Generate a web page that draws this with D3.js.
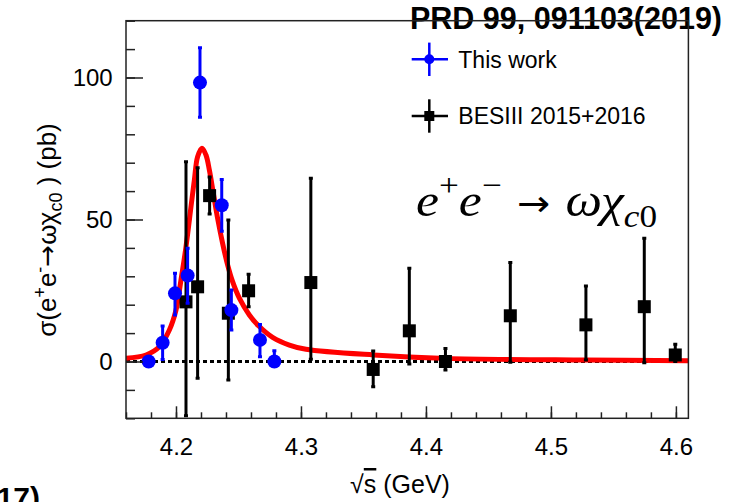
<!DOCTYPE html>
<html>
<head>
<meta charset="utf-8">
<script src="https://cdn.jsdelivr.net/npm/d3@7"></script>
<style>
  html, body { margin: 0; padding: 0; background: #fff; }
  svg { display: block; }
  .sans { font-family: "Liberation Sans", Arial, Helvetica, sans-serif; fill: #000; }
  .serif { font-family: "Liberation Serif", "Times New Roman", serif; fill: #000; }
  .arrow { font-family: "DejaVu Sans", sans-serif; }
</style>
</head>
<body>
<svg id="chart" width="747" height="502"></svg>
<script>
// ---- data: sigma(e+e- -> omega chi_c0) in pb vs sqrt(s) in GeV ----
const thisE      = [4.1781, 4.1893, 4.1992, 4.2093, 4.2192, 4.2366, 4.2443, 4.2672, 4.2787];
const thisSigma  = [0.0, 6.6, 24.0, 30.3, 98.2, 55.0, 18.1, 7.6, 0.0];
const thisErrUp  = [0.0, 5.9, 7.1, 9.6, 12.3, 9.1, 7.1, 5.4, 3.8];
const thisErrDn  = [0.0, 5.9, 7.6, 9.8, 12.2, 9.1, 7.0, 5.9, 0.0];

const besE       = [4.2080, 4.2173, 4.2269, 4.2419, 4.2581, 4.3079, 4.3578, 4.3867, 4.4156, 4.4675, 4.5280, 4.5747, 4.5995];
const besSigma   = [21.0, 26.3, 58.4, 17.0, 24.9, 27.8, -2.8, 10.8, 0.0, 16.1, 12.9, 19.3, 2.3];
const besErrUp   = [49.3, 41.9, 6.6, 32.8, 5.8, 36.7, 6.5, 22.0, 4.6, 18.8, 13.7, 24.1, 3.8];
const besErrDn   = [40.1, 32.2, 6.5, 23.5, 5.6, 27.0, 6.1, 11.7, 3.0, 16.4, 12.4, 19.7, 2.3];

// fitted line shape, sampled along sqrt(s)
const fitE     = [4.160, 4.176, 4.1867, 4.1947, 4.200, 4.204, 4.208, 4.212, 4.2147, 4.2173, 4.2208,
                  4.224, 4.2267, 4.2299, 4.2333, 4.2373, 4.2413, 4.2453, 4.2507, 4.2587, 4.2667,
                  4.2773, 4.2907, 4.304, 4.358, 4.416, 4.528, 4.610];
const fitSigma = [1.1, 2.3, 5.2, 11.1, 18.1, 28.7, 40.4, 54.5, 63.9, 72.1, 75.1,
                  72.7, 67.4, 59.2, 50.4, 41.6, 34.0, 28.1, 22.3, 16.4, 12.3,
                  8.5, 5.8, 4.3, 2.3, 1.1, 0.5, 0.3];

const xMajor = [4.2, 4.3, 4.4, 4.5, 4.6];
const xMinor = d3.range(4.16, 4.6101, 0.02);
const yMajor = [0, 50, 100];
const yMinor = d3.range(-20, 120.1, 10);

const legendLabels = ["This work", "BESIII 2015+2016"];

// ---- layout ----
const svg = d3.select("#chart");
const frame = { left: 126, top: 20.7, right: 688.4, bottom: 418.3 };

const x = d3.scaleLinear().domain([4.16, 4.61]).range([frame.left, frame.right]);
const y = d3.scaleLinear().domain([-20, 120]).range([frame.bottom, frame.top]);

const BLUE = "#0000ff";
const AXIS = "#222";

// reference tag (drawn under the frame line)
svg.append("text").attr("class", "sans")
  .attr("x", 410).attr("y", 28.5)
  .attr("font-size", 30.5).attr("font-weight", "bold")
  .text("PRD 99, 091103(2019)");

svg.append("text").attr("class", "sans")
  .attr("x", 40).attr("y", 508).attr("text-anchor", "end")
  .attr("font-size", 30).attr("font-weight", "bold")
  .text("(2017)");

svg.append("defs").append("clipPath").attr("id", "plot-clip")
  .append("rect")
  .attr("x", frame.left).attr("y", frame.top)
  .attr("width", frame.right - frame.left).attr("height", frame.bottom - frame.top);

const plot = svg.append("g").attr("clip-path", "url(#plot-clip)");

// zero reference line
plot.append("line")
  .attr("x1", frame.left).attr("x2", frame.right)
  .attr("y1", y(0)).attr("y2", y(0))
  .attr("stroke", "#000").attr("stroke-width", 3)
  .attr("stroke-dasharray", "4,3");

// fit curve
const fitPts = fitE.map((e, i) => [e, fitSigma[i]]);
plot.append("path")
  .datum(fitPts)
  .attr("fill", "none")
  .attr("stroke", "#ff0000")
  .attr("stroke-width", 5)
  .attr("d", d3.line().x(d => x(d[0])).y(d => y(d[1])).curve(d3.curveCatmullRom.alpha(0.5)));

// error bars helper
function errorBars(g, E, S, up, dn, color) {
  const rows = E.map((e, i) => ({ e, s: S[i], u: up[i], d: dn[i] })).filter(r => r.u > 0 || r.d > 0);
  g.selectAll(null).data(rows).enter().append("line")
    .attr("x1", r => x(r.e)).attr("x2", r => x(r.e))
    .attr("y1", r => y(r.s + r.u)).attr("y2", r => y(r.s - r.d))
    .attr("stroke", color).attr("stroke-width", 3);
  const caps = [];
  rows.forEach(r => {
    if (r.u > 0) caps.push({ e: r.e, v: r.s + r.u });
    if (r.d > 0) caps.push({ e: r.e, v: r.s - r.d });
  });
  g.selectAll(null).data(caps).enter().append("line")
    .attr("x1", c => x(c.e) - 2).attr("x2", c => x(c.e) + 2)
    .attr("y1", c => y(c.v)).attr("y2", c => y(c.v))
    .attr("stroke", color).attr("stroke-width", 3);
}

const besG = plot.append("g");
errorBars(besG, besE, besSigma, besErrUp, besErrDn, "#000");
besG.selectAll("rect").data(besE).enter().append("rect")
  .attr("x", (e) => x(e) - 6.5)
  .attr("y", (e, i) => y(besSigma[i]) - 6.5)
  .attr("width", 13).attr("height", 13)
  .attr("fill", "#000");

const thisG = plot.append("g");
errorBars(thisG, thisE, thisSigma, thisErrUp, thisErrDn, BLUE);
thisG.selectAll("circle").data(thisE).enter().append("circle")
  .attr("cx", e => x(e))
  .attr("cy", (e, i) => y(thisSigma[i]))
  .attr("r", 7)
  .attr("fill", BLUE);

// ---- axes (ticks point inward) ----
const xAxisMinor = d3.axisBottom(x).tickValues(xMinor).tickSize(-6).tickFormat("");
const xAxisMajor = d3.axisBottom(x).tickValues(xMajor).tickSize(-12).tickPadding(20)
  .tickFormat(d3.format(".1f"));
const yAxisMinor = d3.axisLeft(y).tickValues(yMinor).tickSize(-9).tickFormat("");
const yAxisMajor = d3.axisLeft(y).tickValues(yMajor).tickSize(-17).tickPadding(13.3)
  .tickFormat(d3.format("d"));

function styleAxis(g) {
  g.attr("font-family", null).attr("font-size", null);
  g.select(".domain").remove();
  g.selectAll(".tick line").attr("stroke", AXIS).attr("stroke-width", 1.5);
  g.selectAll(".tick text").attr("class", "sans").attr("font-size", 24).attr("fill", "#000");
}

svg.append("g").attr("transform", `translate(0,${frame.bottom})`).call(xAxisMinor).call(styleAxis);
svg.append("g").attr("transform", `translate(0,${frame.bottom})`).call(xAxisMajor).call(styleAxis);
svg.append("g").attr("transform", `translate(${frame.left},0)`).call(yAxisMinor).call(styleAxis);
svg.append("g").attr("transform", `translate(${frame.left},0)`).call(yAxisMajor).call(styleAxis);

// frame
svg.append("rect")
  .attr("x", frame.left).attr("y", frame.top)
  .attr("width", frame.right - frame.left).attr("height", frame.bottom - frame.top)
  .attr("fill", "none").attr("stroke", AXIS).attr("stroke-width", 1.5);

// ---- axis titles ----
const xt = svg.append("text").attr("class", "sans")
  .attr("x", 400).attr("y", 493).attr("text-anchor", "middle").attr("font-size", 25);
xt.append("tspan").text("\u221A");
xt.append("tspan").style("text-decoration", "overline").text("s");
xt.append("tspan").text(" (GeV)");

const yt = svg.append("text").attr("class", "sans")
  .attr("transform", "translate(56,230) rotate(-90)")
  .attr("text-anchor", "middle").attr("font-size", 26);
yt.append("tspan").text("\u03C3(e");
yt.append("tspan").attr("dy", -10).attr("font-size", 18).text("+");
yt.append("tspan").attr("dy", 10).text("e");
yt.append("tspan").attr("dy", -10).attr("font-size", 18).text("-");
yt.append("tspan").attr("dy", 10).attr("class", "arrow").text("\u2192");
yt.append("tspan").text("\u03C9\u03C7");
yt.append("tspan").attr("dy", 6).attr("font-size", 18).text("c0");
yt.append("tspan").attr("dy", -6).text(" ) (pb)");

// ---- process label ----
const pl = svg.append("text").attr("class", "serif")
  .attr("transform", "translate(416,216) scale(1.1,1)")
  .attr("font-size", 47);
pl.append("tspan").attr("font-style", "italic").text("e");
pl.append("tspan").attr("dy", -20).attr("font-size", 32).text("+");
pl.append("tspan").attr("dy", 20).attr("font-style", "italic").text("e");
pl.append("tspan").attr("dy", -20).attr("font-size", 32).text("\u2212");
pl.append("tspan").attr("dy", 20).attr("dx", 14).attr("class", "arrow").attr("font-size", 36).text("\u2192");
pl.append("tspan").attr("dx", 14).attr("font-style", "italic").text("\u03C9\u03C7");
pl.append("tspan").attr("dy", 11).attr("font-size", 32).attr("font-style", "italic").text("c");
pl.append("tspan").attr("font-size", 32).text("0");

// ---- legend ----
const leg = svg.append("g");
const legRows = [
  { color: BLUE, cy: 59.3, shape: "circle", label: legendLabels[0] },
  { color: "#000", cy: 116, shape: "square", label: legendLabels[1] }
];
legRows.forEach(r => {
  const cx = 429.3;
  leg.append("line").attr("x1", 411.7).attr("x2", 448).attr("y1", r.cy).attr("y2", r.cy)
    .attr("stroke", r.color).attr("stroke-width", 2.5);
  leg.append("line").attr("x1", cx).attr("x2", cx).attr("y1", r.cy - 16.7).attr("y2", r.cy + 16.7)
    .attr("stroke", r.color).attr("stroke-width", 2.5);
  if (r.shape === "circle") {
    leg.append("circle").attr("cx", cx).attr("cy", r.cy).attr("r", 5).attr("fill", r.color);
  } else {
    leg.append("rect").attr("x", cx - 5).attr("y", r.cy - 5).attr("width", 10).attr("height", 10)
      .attr("fill", r.color);
  }
  leg.append("text").attr("class", "sans").attr("x", 458.3).attr("y", r.cy).attr("dy", "0.36em")
    .attr("font-size", 23).text(r.label);
});
</script>
</body>
</html>
